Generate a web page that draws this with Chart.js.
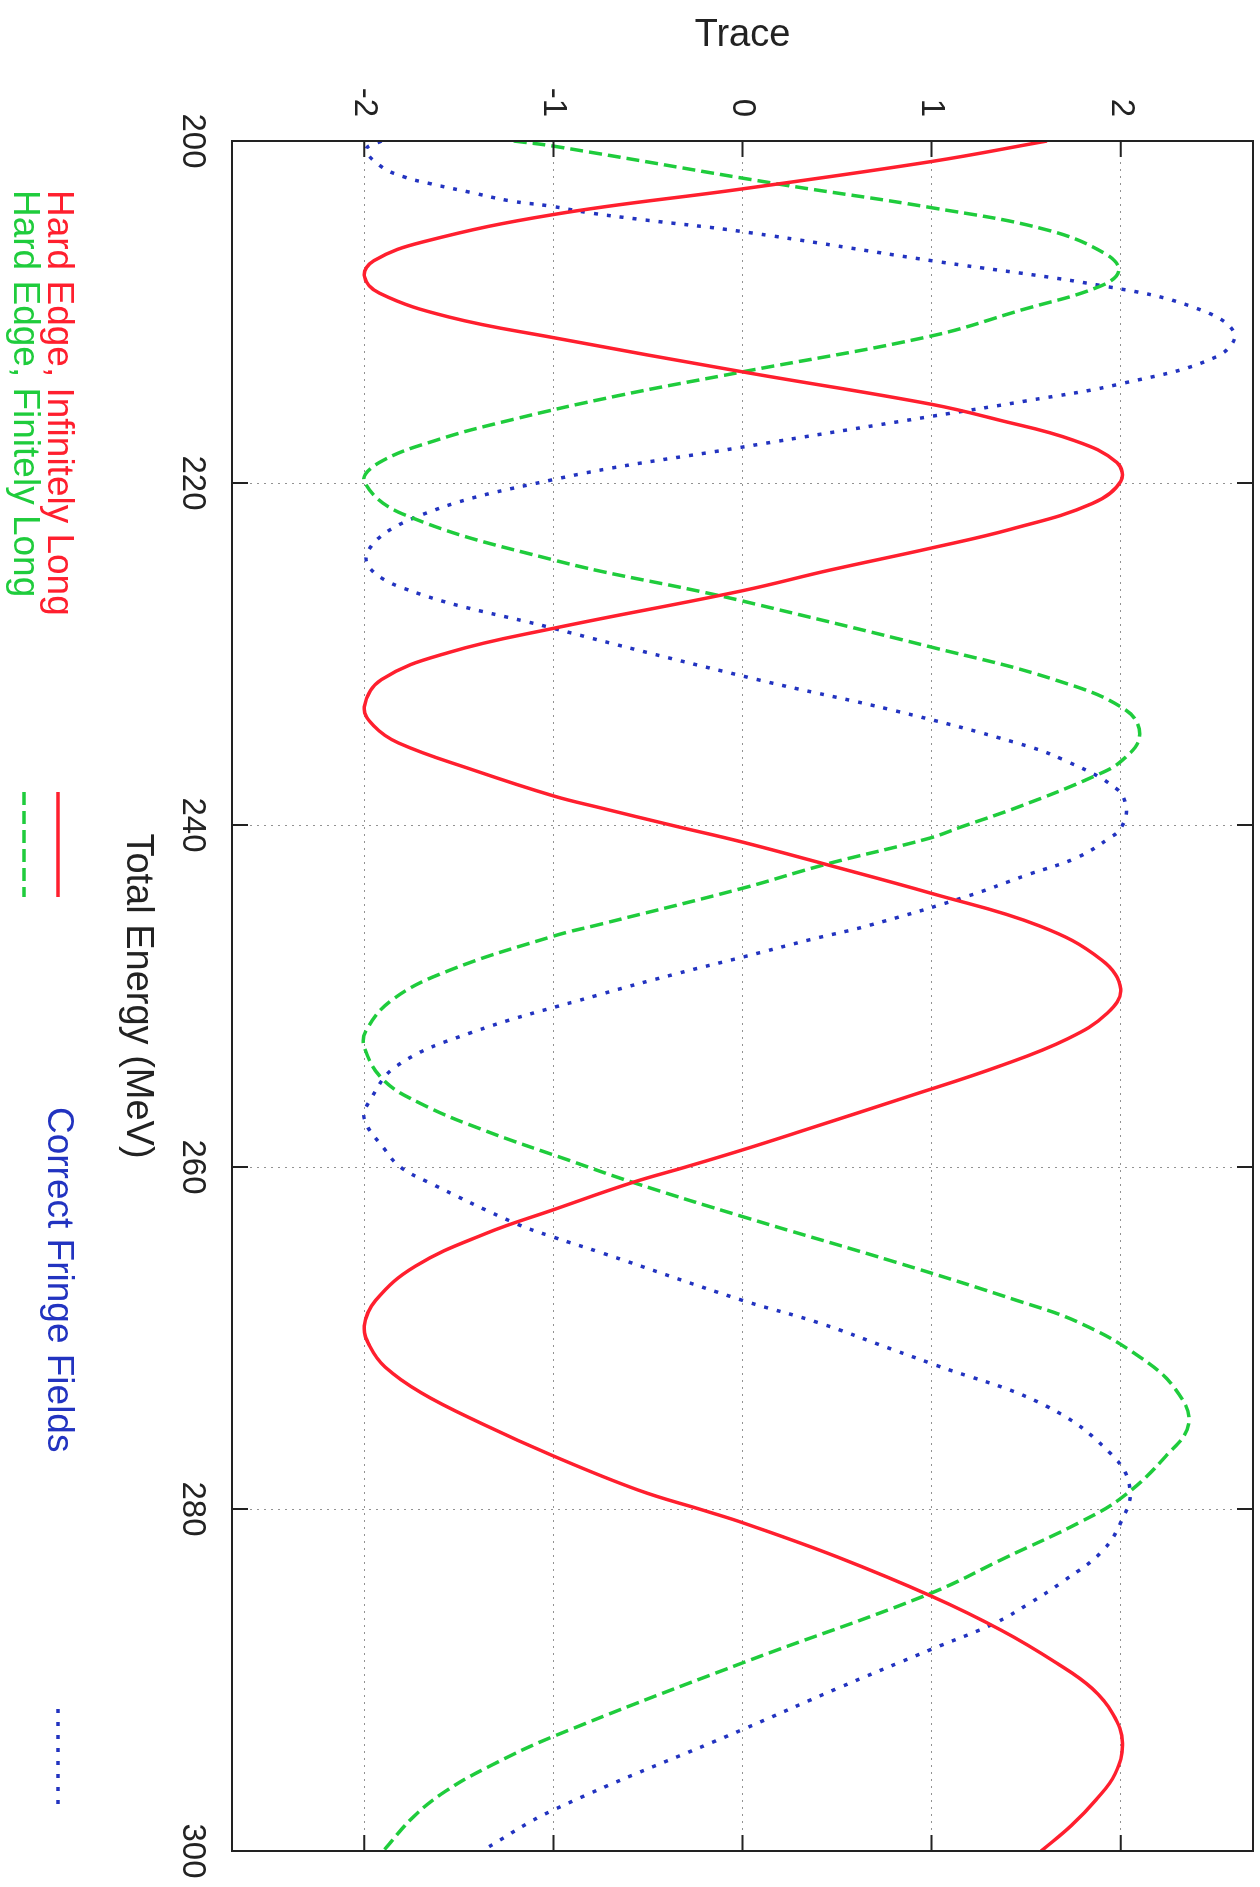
<!DOCTYPE html>
<html lang="en">
<head>
<meta charset="UTF-8" />
<title>Trace vs Total Energy</title>
<script src="https://cdn.jsdelivr.net/npm/chart.js"></script>
<style>
  html, body { margin: 0; padding: 0; background: #fff; overflow: hidden; }
  /* the plot was printed sideways: draw it landscape, then turn it a quarter turn clockwise */
  #page {
    position: absolute; left: 0; top: 0;
    width: 1887px; height: 1260px;
    transform-origin: 0 0;
    transform: translate(1260px, 0) rotate(90deg);
    background: #fff;
  }
</style>
</head>
<body>
<div id="page"><canvas id="traceChart" width="1887" height="1260"></canvas></div>

<script>
const energyTicks = [200, 220, 240, 260, 280, 300];
const traceTicks = [-2, -1, 0, 1, 2];

// Hard Edge, Infinitely Long
const redEnergy = [200.0,201.2,202.8,204.3,205.9,207.0,207.9,208.9,210.3,211.5,213.5,215.4,216.3,217.5,218.8,219.9,221.2,222.7,223.8,225.1,226.3,228.5,229.9,231.5,233.1,234.2,235.2,236.8,238.3,239.0,240.0,241.0,242.3,244.0,245.9,247.9,249.6,251.0,252.5,254.1,255.9,257.8,259.0,260.0,260.9,262.5,263.9,265.8,267.8,269.3,270.5,271.7,273.2,275.0,276.9,278.9,280.1,280.8,282.8,285.1,287.1,289.0,290.5,292.0,293.7,295.5,297.0,298.5,300.0];
const redTrace = [1.61,1.00,0.00,-1.00,-1.69,-1.95,-2.00,-1.92,-1.55,-1.00,0.00,1.00,1.35,1.75,1.98,2.00,1.85,1.42,1.00,0.46,0.00,-1.00,-1.55,-1.91,-2.00,-1.95,-1.82,-1.42,-1.00,-0.75,-0.38,0.00,0.44,1.00,1.57,1.90,2.00,1.93,1.72,1.36,0.87,0.34,0.00,-0.30,-0.58,-1.00,-1.36,-1.73,-1.94,-2.00,-1.97,-1.89,-1.70,-1.38,-1.00,-0.55,-0.20,0.00,0.50,1.00,1.37,1.66,1.85,1.96,2.01,1.97,1.87,1.74,1.58];

// Hard Edge, Finitely Long
const greenEnergy = [200.0,200.3,202.5,203.9,205.2,206.6,207.6,208.5,209.9,211.4,213.5,214.9,216.3,217.5,218.8,219.9,221.8,224.5,226.4,226.9,229.6,231.5,233.3,234.8,236.2,237.1,238.9,240.1,240.8,242.3,243.7,245.8,246.5,248.5,250.2,252.0,253.0,254.9,256.3,257.8,259.6,260.9,262.9,265.6,267.8,269.1,271.1,273.0,275.0,276.9,279.3,280.8,282.8,285.0,289.0,293.3,295.0,296.5,298.0,300.0];
const greenTrace = [-1.21,-1.00,0.18,1.00,1.61,1.92,1.99,1.89,1.47,1.00,0.00,-0.66,-1.22,-1.62,-1.92,-2.00,-1.80,-1.00,-0.20,0.00,1.00,1.65,2.03,2.10,2.01,1.87,1.47,1.16,0.98,0.44,0.00,-0.75,-1.00,-1.55,-1.85,-1.99,-2.00,-1.90,-1.70,-1.38,-0.92,-0.58,0.00,0.82,1.45,1.78,2.10,2.29,2.36,2.24,2.01,1.78,1.40,0.98,0.00,-1.00,-1.33,-1.57,-1.74,-1.90];

// Correct Fringe Fields
const blueEnergy = [200.0,200.5,201.5,202.1,202.5,203.0,203.5,203.8,204.2,204.6,205.3,207.0,208.5,209.7,211.2,212.6,214.2,215.2,216.1,217.9,219.8,222.1,224.3,226.0,228.5,231.5,233.3,235.2,236.2,237.9,239.1,240.2,240.7,241.9,242.9,244.2,245.9,246.7,247.7,248.7,249.9,252.2,254.1,256.1,257.2,259.0,260.0,260.9,263.3,264.1,265.0,267.8,269.1,270.7,271.5,274.0,276.9,278.9,280.8,282.5,284.2,285.5,286.7,288.2,290.5,292.9,297.6,300.0];
const blueTrace = [-1.91,-1.99,-1.91,-1.79,-1.65,-1.44,-1.23,-1.02,-0.81,-0.53,0.00,1.00,1.92,2.38,2.60,2.51,2.00,1.50,1.00,0.00,-1.00,-1.75,-1.99,-1.83,-1.00,0.08,0.80,1.45,1.70,1.98,2.03,2.00,1.95,1.77,1.51,1.18,0.66,0.36,0.01,-0.35,-0.75,-1.45,-1.83,-1.97,-2.00,-1.89,-1.81,-1.66,-1.20,-1.00,-0.75,0.00,0.40,0.80,1.00,1.61,1.96,2.05,2.00,1.90,1.70,1.52,1.33,1.00,0.50,0.00,-1.00,-1.38];

const FONT = '"Liberation Sans", Arial, sans-serif';
const RED = '#ff1f2e';
const GREEN = '#1fcc3c';
const BLUE = '#2233c0';

function points(xs, ys) {
  return xs.map((x, i) => ({ x, y: ys[i] }));
}

// key sits below the axis title, laid out like the gnuplot one (canvas coords before the turn)
const legendSpots = [
  { x: 190, y: 1202, lineFrom: 792, lineTo: 897 },
  { x: 190, y: 1236, lineFrom: 792, lineTo: 897 },
  { x: 1107, y: 1202, lineFrom: 1709, lineTo: 1811 }
];

const framePlugin = {
  id: 'frame',
  afterDraw(chart) {
    const { ctx, chartArea: a, scales } = chart;
    const tick = 16;
    ctx.save();
    ctx.strokeStyle = '#222';
    ctx.lineWidth = 2;
    ctx.setLineDash([]);
    ctx.strokeRect(a.left, a.top, a.right - a.left, a.bottom - a.top);
    ctx.beginPath();
    traceTicks.forEach(v => {
      const y = scales.y.getPixelForValue(v);
      ctx.moveTo(a.left, y); ctx.lineTo(a.left + tick, y);
      ctx.moveTo(a.right, y); ctx.lineTo(a.right - tick, y);
    });
    energyTicks.forEach(v => {
      const x = scales.x.getPixelForValue(v);
      ctx.moveTo(x, a.top); ctx.lineTo(x, a.top + tick);
      ctx.moveTo(x, a.bottom); ctx.lineTo(x, a.bottom - tick);
    });
    ctx.stroke();

    // key
    ctx.font = '37px ' + FONT;
    ctx.textBaseline = 'middle';
    ctx.textAlign = 'left';
    chart.data.datasets.forEach((ds, i) => {
      const s = legendSpots[i];
      ctx.fillStyle = ds.borderColor;
      ctx.fillText(ds.label, s.x, s.y);
      ctx.strokeStyle = ds.borderColor;
      ctx.lineWidth = ds.borderWidth;
      ctx.setLineDash(ds.borderDash || []);
      ctx.beginPath();
      ctx.moveTo(s.lineFrom, s.y);
      ctx.lineTo(s.lineTo, s.y);
      ctx.stroke();
    });
    ctx.restore();
  }
};

new Chart(document.getElementById('traceChart'), {
  type: 'line',
  data: {
    datasets: [
      {
        label: 'Hard Edge, Infinitely Long',
        data: points(redEnergy, redTrace),
        borderColor: RED,
        borderWidth: 3.5,
        borderDash: []
      },
      {
        label: 'Hard Edge, Finitely Long',
        data: points(greenEnergy, greenTrace),
        borderColor: GREEN,
        borderWidth: 3.5,
        borderDash: [13, 6]
      },
      {
        label: 'Correct Fringe Fields',
        data: points(blueEnergy, blueTrace),
        borderColor: BLUE,
        borderWidth: 3.5,
        borderDash: [4, 9]
      }
    ]
  },
  options: {
    responsive: false,
    animation: false,
    layout: { padding: { top: 7, right: 36, bottom: 0, left: 0 } },
    elements: {
      point: { radius: 0 },
      line: { tension: 0.4, fill: false }
    },
    plugins: {
      legend: { display: false },
      tooltip: { enabled: false }
    },
    scales: {
      x: {
        type: 'linear',
        position: 'bottom',
        min: 200,
        max: 300,
        afterBuildTicks: s => { s.ticks = energyTicks.map(v => ({ value: v })); },
        afterFit: s => { s.height = 232; s.paddingLeft = 0; s.paddingRight = 0; },
        ticks: {
          padding: 20,
          maxRotation: 0,
          color: '#222',
          font: { family: FONT, size: 33 },
          callback: v => String(v)
        },
        grid: { color: 'rgba(110,110,110,0.75)', lineWidth: 1, drawTicks: false },
        border: { display: false, dash: [2, 5] },
        title: {
          display: true,
          text: 'Total Energy (MeV)',
          color: '#222',
          font: { family: FONT, size: 38 },
          padding: { top: 0, bottom: 115 }
        }
      },
      y: {
        type: 'linear',
        position: 'left',
        min: -2.7,
        max: 2.7,
        afterBuildTicks: s => { s.ticks = traceTicks.map(v => ({ value: v })); },
        afterFit: s => { s.width = 141; s.paddingTop = 0; s.paddingBottom = 0; },
        ticks: {
          padding: 24,
          color: '#222',
          font: { family: FONT, size: 33 },
          callback: v => String(v)
        },
        grid: { color: 'rgba(110,110,110,0.75)', lineWidth: 1, drawTicks: false },
        border: { display: false, dash: [2, 5] },
        title: {
          display: true,
          text: 'Trace',
          color: '#222',
          font: { family: FONT, size: 38 },
          padding: { top: 13, bottom: 0 }
        }
      }
    }
  },
  plugins: [framePlugin]
});
</script>
</body>
</html>
